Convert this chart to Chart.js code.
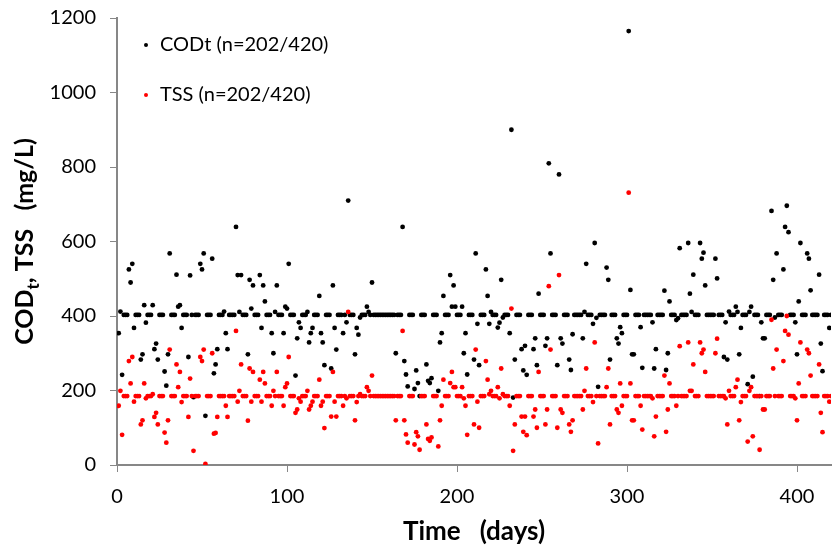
<!DOCTYPE html>
<html>
<head>
<meta charset="utf-8">
<script src="https://cdn.jsdelivr.net/npm/chart.js@4.4.0/dist/chart.umd.min.js"></script>
<style>
  html, body { margin: 0; padding: 0; background: #fff; }
  canvas { display: block; }
</style>
</head>
<body>
<canvas id="codChart" width="835" height="549"></canvas>
<script>
// days that had a measurement
var sampleDays = [
  1,2,3,7,8,9,10,14,15,16,17,21,22,23,24,28,29,30,31,35,36,37,38,42,43,45,49,50,51,52,56,57,58,59,63,64,65,
  70,71,72,73,77,78,79,80,84,85,86,87,91,92,93,94,98,99,100,101,105,106,107,108,112,113,114,115,119,120,121,122,126,127,128,129,133,135,136,
  140,141,142,143,147,148,150,164,168,169,170,171,175,176,177,178,182,183,184,185,189,190,191,192,196,197,198,199,203,204,205,206,
  210,211,212,213,217,218,219,220,224,225,226,227,231,232,233,234,238,239,240,241,245,246,247,248,252,253,254,255,259,260,261,262,266,267,268,274,275,276,
  280,281,282,283,288,289,290,294,295,296,297,301,302,303,304,308,309,315,316,317,322,323,324,325,329,330,331,336,337,338,339,343,344,345,346,
  352,353,357,358,359,360,364,365,366,367,371,372,373,374,378,379,380,381,385,386,387,388,392,393,394,395,399,400,401,402,406,407,408,413,414,415,419
];
var codValues = [
  354,412,242,525,490,540,368,283,297,429,382,429,311,326,283,251,213,297,568,511,425,429,368,290,509,182,540,525,568,132,554,246,270,311,412,354,311,
  639,510,411,510,297,497,420,482,510,368,482,439,354,300,411,482,354,425,420,540,240,340,383,368,411,329,354,368,454,354,329,268,259,482,368,310,354,383,710,
  297,368,350,396,425,411,490,300,639,279,243,211,204,254,220,185,270,226,220,233,199,329,354,454,510,425,482,425,425,300,354,243,
  283,568,379,268,525,454,379,411,369,382,497,396,354,900,181,283,311,254,320,242,311,340,268,460,320,340,810,568,268,780,340,326,283,255,351,340,411,540,
  379,596,395,210,530,497,283,340,326,370,354,1165,470,297,297,370,261,383,259,311,468,255,300,439,389,394,582,596,460,411,511,596,554,570,482,
  554,501,290,383,283,412,425,411,297,368,217,411,425,237,185,383,340,340,682,497,396,568,525,639,696,625,383,297,439,596,568,554,469,511,326,252,368
];
var tssValues = [
  159,199,81,279,219,290,170,109,120,219,179,190,129,140,109,87,60,120,310,270,209,250,169,129,232,38,290,279,310,3,300,84,86,129,185,159,129,
  360,170,199,270,119,259,170,250,229,170,250,219,159,199,185,250,159,209,219,290,140,149,179,170,199,149,159,170,229,159,170,99,130,250,170,130,159,179,411,
  120,169,185,190,209,199,240,120,360,120,82,60,55,88,77,41,109,70,65,74,50,120,159,229,220,250,209,209,209,179,159,81,
  109,310,170,100,279,229,190,199,209,179,259,190,159,420,38,109,130,89,130,80,130,149,100,250,109,149,480,310,100,510,149,140,109,89,120,149,199,259,
  169,329,185,58,209,259,109,149,140,219,159,731,219,120,120,159,95,179,77,130,240,89,149,219,159,185,319,329,199,199,270,329,300,310,250,
  300,339,185,179,109,199,209,229,120,169,63,199,209,77,41,185,149,149,390,259,185,310,279,360,400,350,179,120,219,329,310,300,240,270,140,88,170
];
// days without a sample are plotted at the series average
var codFill = 403;
var tssFill = 185;
var totalDays = 420;
var seriesLabels = ["CODt (n=202/420)", "TSS (n=202/420)"];
var seriesColors = ["#000000", "#ff0000"];

var FONT = "Lato, 'Open Sans', sans-serif";

function buildSeries(values, fill) {
  var pts = [];
  for (var d = 1; d <= totalDays; d++) {
    var i = sampleDays.indexOf(d);
    pts.push({x: d, y: i >= 0 ? values[i] : fill});
  }
  return pts;
}

// legend drawn inside the plot, top left
var insideLegend = {
  id: 'insideLegend',
  afterDraw: function(chart) {
    var ctx = chart.ctx, area = chart.chartArea;
    ctx.save();
    ctx.font = "20px " + FONT;
    ctx.textBaseline = 'middle';
    ctx.textAlign = 'left';
    chart.data.datasets.forEach(function(ds, i) {
      var y = area.top + 27 + i * 50;
      ctx.fillStyle = ds.backgroundColor;
      ctx.beginPath();
      ctx.arc(area.left + 29, y, 2, 0, Math.PI * 2);
      ctx.fill();
      ctx.fillStyle = '#000';
      ctx.fillText(ds.label, area.left + 43, y);
    });
    ctx.restore();
  }
};

// y axis title with subscript t
var yTitle = {
  id: 'yTitle',
  afterDraw: function(chart) {
    var ctx = chart.ctx, area = chart.chartArea;
    var big = "bold 25px " + FONT, small = "bold 17px " + FONT;
    var parts = [["COD", big, 0], ["t", small, 6], [", TSS   (mg/L)", big, 0]];
    ctx.save();
    var total = 0;
    parts.forEach(function(p) { ctx.font = p[1]; total += ctx.measureText(p[0]).width; });
    ctx.translate(33, (area.top + area.bottom) / 2);
    ctx.rotate(-Math.PI / 2);
    ctx.fillStyle = '#000';
    ctx.textBaseline = 'alphabetic';
    var x = -total / 2;
    parts.forEach(function(p) {
      ctx.font = p[1];
      ctx.fillText(p[0], x, p[2]);
      x += ctx.measureText(p[0]).width;
    });
    ctx.restore();
  }
};

var ctx = document.getElementById("codChart").getContext('2d');
var myChart = new Chart(ctx, {
  type: 'scatter',
  data: {
    datasets: [
      {
        label: seriesLabels[0],
        data: buildSeries(codValues, codFill),
        backgroundColor: seriesColors[0],
        borderWidth: 0,
        pointRadius: 2.4,
        order: 2
      },
      {
        label: seriesLabels[1],
        data: buildSeries(tssValues, tssFill),
        backgroundColor: seriesColors[1],
        borderWidth: 0,
        pointRadius: 2.4,
        order: 1
      }
    ]
  },
  options: {
    responsive: false,
    animation: false,
    layout: { padding: { top: 18, right: 0, left: 0, bottom: 0 } },
    plugins: {
      legend: { display: false },
      tooltip: { enabled: false }
    },
    scales: {
      x: {
        type: 'linear',
        min: 0,
        max: 420,
        border: { color: '#878787', width: 2 },
        grid: { drawOnChartArea: false, drawTicks: true, tickLength: 7, color: '#878787' },
        ticks: { stepSize: 100, includeBounds: false, padding: 13, color: '#000', font: { family: FONT, size: 20 } },
        title: { display: true, text: 'Time   (days)', color: '#000', font: { family: FONT, size: 26, weight: 'bold' }, padding: { top: 0, bottom: 2 } },
        afterFit: function(axis) { axis.height = 84; axis.paddingLeft = 0; axis.paddingRight = 0; }
      },
      y: {
        min: 0,
        max: 1200,
        border: { color: '#878787', width: 2 },
        grid: { drawOnChartArea: false, drawTicks: true, tickLength: 7, color: '#878787' },
        ticks: { stepSize: 200, padding: 14, color: '#000', format: { useGrouping: false }, font: { family: FONT, size: 20 } },
        afterFit: function(axis) { axis.width = 117; axis.paddingTop = 0; axis.paddingBottom = 0; }
      }
    }
  },
  plugins: [insideLegend, yTitle]
});
</script>
</body>
</html>
